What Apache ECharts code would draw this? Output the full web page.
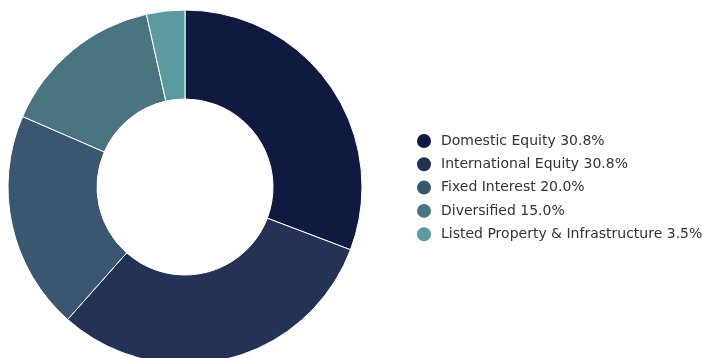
<!DOCTYPE html>
<html>
<head>
<meta charset="utf-8">
<script src="https://cdn.jsdelivr.net/npm/echarts@6/dist/echarts.min.js"></script>
<style>html,body{margin:0;padding:0;background:#fff}#c{width:702px;height:358px}</style>
</head>
<body>
<div id="c"></div>
<script>
var categories = ['Domestic Equity', 'International Equity', 'Fixed Interest', 'Diversified', 'Listed Property & Infrastructure'];
var values = [30.8, 30.8, 20.0, 15.0, 3.5];
var colors = ['#101a40', '#243255', '#3b5670', '#4a7480', '#5b9a9e'];

var chart = echarts.init(document.getElementById('c'), null, {renderer: 'canvas'});
var data = categories.map(function (c, i) { return {name: c, value: values[i], itemStyle: {color: colors[i]}}; });
chart.setOption({
  animation: false,
  legend: {
    orient: 'vertical',
    left: 415,
    top: 132,
    padding: 0,
    icon: 'circle',
    itemWidth: 16,
    itemHeight: 16,
    itemGap: 5.3,
    textStyle: {fontFamily: 'DejaVu Sans', fontSize: 14, color: '#333', padding: [0, 0, 0, 4]},
    formatter: function (name) {
      var i = categories.indexOf(name);
      return name + ' ' + values[i].toFixed(1) + '%';
    },
    data: categories
  },
  series: [{
    type: 'pie',
    center: [185, 187],
    radius: [88, 177],
    startAngle: 90,
    clockwise: true,
    label: {show: false},
    labelLine: {show: false},
    itemStyle: {borderColor: '#fff', borderWidth: 1},
    emphasis: {disabled: true},
    data: data
  }]
});
</script>
</body>
</html>
